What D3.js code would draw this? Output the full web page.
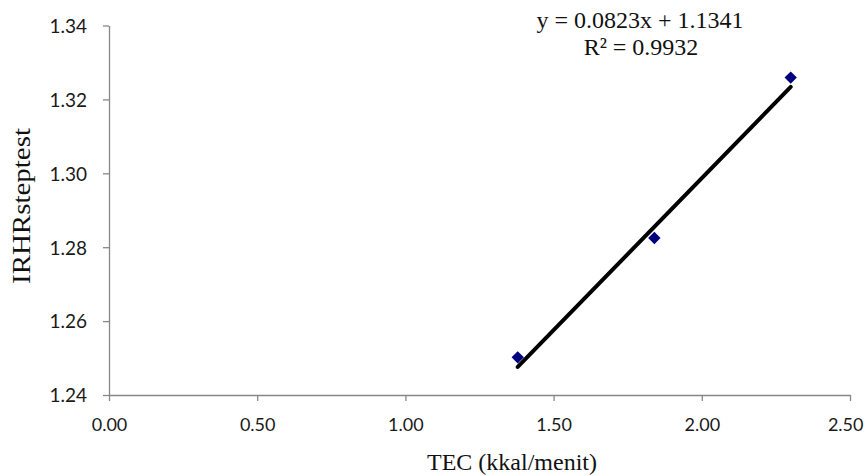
<!DOCTYPE html>
<html>
<head>
<meta charset="utf-8">
<script src="https://cdn.jsdelivr.net/npm/d3@7/dist/d3.min.js"></script>
<style>
  html, body { margin: 0; padding: 0; background: #fff; }
  svg { display: block; }
</style>
</head>
<body>
<svg id="chart" width="867" height="476"></svg>
<script>
// ---- data ----
const tecValues = [1.379, 1.840, 2.300];          // TEC (kkal/menit)
const irhrValues = [1.2502, 1.2825, 1.3259];      // IRHRsteptest
const trendCoef = [0.0823, 1.1341];               // slope, intercept
const rSquared = "0.9932";
const xTicks = [0, 0.5, 1.0, 1.5, 2.0, 2.5];
const yTicks = [1.24, 1.26, 1.28, 1.30, 1.32, 1.34];
const xTitle = "TEC (kkal/menit)";
const yTitle = "IRHRsteptest";

const svg = d3.select("#chart");
const axisColor = "#878787";

const x = d3.scaleLinear().domain([0, 2.5]).range([109, 850]);
const y = d3.scaleLinear().domain([1.24, 1.34]).range([395, 25.5]);

// axes
const xAxis = d3.axisBottom(x).tickValues(xTicks).tickSize(6).tickSizeOuter(0)
  .tickFormat(d3.format(".2f"));
const yAxis = d3.axisLeft(y).tickValues(yTicks).tickSize(6).tickSizeOuter(0)
  .tickFormat(d3.format(".2f"));

const gx = svg.append("g").attr("transform", `translate(0,${y(1.24)})`).call(xAxis);
const gy = svg.append("g").attr("transform", `translate(${x(0)},0)`).call(yAxis);

[gx, gy].forEach(g => {
  g.select(".domain").attr("stroke", axisColor).attr("stroke-width", 1.3);
  g.selectAll(".tick line").attr("stroke", axisColor).attr("stroke-width", 1.3);
  g.selectAll(".tick text")
    .attr("fill", "#1a1a1a")
    .style("font-family", "Lato, 'Open Sans', sans-serif")
    .style("font-size", "19px");
});
gx.selectAll(".tick text").attr("y", 0).attr("dy", 0)
  .attr("transform", "translate(0,36)")
  .style("font-size", "18px");
// keep the last label inside the window edge
gx.selectAll(".tick text").filter(d => d === xTicks[xTicks.length - 1])
  .attr("text-anchor", "end").attr("x", 13);
gy.selectAll(".tick text").attr("x", -22).attr("dy", "0.36em");

// trendline
const lf = v => trendCoef[0] * v + trendCoef[1];
const xMin = d3.min(tecValues), xMax = d3.max(tecValues);
svg.append("line")
  .attr("x1", x(xMin)).attr("y1", y(lf(xMin)))
  .attr("x2", x(xMax)).attr("y2", y(lf(xMax)))
  .attr("stroke", "#000").attr("stroke-width", 4).attr("stroke-linecap", "round");

// markers
const pts = tecValues.map((v, i) => ({ x: v, y: irhrValues[i] }));
svg.append("g").selectAll("path").data(pts).join("path")
  .attr("d", d3.symbol(d3.symbolSquare, 76))
  .attr("transform", d => `translate(${x(d.x)},${y(d.y)}) rotate(45)`)
  .attr("fill", "#00007f");

// equation
const serif = "'Liberation Serif', 'Times New Roman', serif";
svg.append("text")
  .attr("x", 640).attr("y", 27.5).attr("text-anchor", "middle")
  .style("font-family", serif).style("font-size", "24px").attr("fill", "#111")
  .text(`y = ${trendCoef[0]}x + ${trendCoef[1]}`);
svg.append("text")
  .attr("x", 641).attr("y", 55).attr("text-anchor", "middle")
  .style("font-family", serif).style("font-size", "24px").attr("fill", "#111")
  .text(`R² = ${rSquared}`);

// axis titles
svg.append("text")
  .attr("x", 512).attr("y", 470).attr("text-anchor", "middle")
  .style("font-family", serif).style("font-size", "24px").attr("fill", "#111")
  .text(xTitle);
svg.append("text")
  .attr("transform", "translate(30,206) rotate(-90)")
  .attr("text-anchor", "middle")
  .attr("textLength", 156).attr("lengthAdjust", "spacingAndGlyphs")
  .style("font-family", serif).style("font-size", "25px").attr("fill", "#111")
  .text(yTitle);
</script>
</body>
</html>
